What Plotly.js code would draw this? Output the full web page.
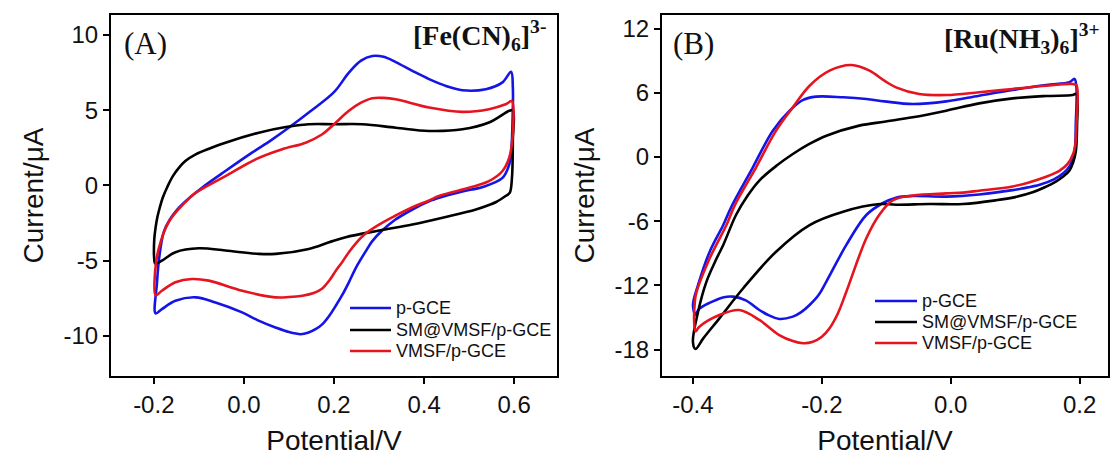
<!DOCTYPE html>
<html><head><meta charset="utf-8">
<script src="https://cdn.plot.ly/plotly-3.0.1.min.js"></script>
<style>html,body{margin:0;padding:0;background:#fff;} #chart{width:1110px;height:459px;}</style>
</head><body><div id="chart"></div><script>
const seriesNames = ['p-GCE', 'SM@VMSF/p-GCE', 'VMSF/p-GCE'];

// Panel A: [Fe(CN)6]3-
const vA_blue = [-0.196,-0.193,-0.188,-0.178,-0.165,-0.148,-0.12,-0.093,-0.041,0.018,0.06,0.1,0.144,0.2,0.233,0.26,0.285,0.31,0.337,0.375,0.411,0.45,0.485,0.537,0.574,0.593,0.597,0.596,0.594,0.589,0.574,0.53,0.485,0.441,0.411,0.374,0.335,0.307,0.285,0.27,0.25,0.233,0.218,0.204,0.19,0.175,0.159,0.142,0.126,0.1,0.07,0.03,-0.004,-0.063,-0.107,-0.152,-0.182,-0.196];
const iA_blue = [-8.5,-6.5,-4.8,-3.1,-2.3,-1.6,-0.8,-0.15,0.96,2.18,3.0,3.85,4.85,6.2,7.5,8.3,8.6,8.55,8.2,7.6,7.07,6.6,6.33,6.4,6.85,7.55,6.5,4.0,2.5,1.4,0.5,-0.1,-0.4,-0.75,-1.05,-1.6,-2.3,-3.0,-3.7,-4.4,-5.4,-6.44,-7.3,-8.0,-8.65,-9.2,-9.56,-9.8,-9.89,-9.75,-9.44,-8.95,-8.44,-7.78,-7.44,-7.67,-8.22,-8.5];

const vA_black = [-0.197,-0.199,-0.199,-0.196,-0.192,-0.187,-0.18,-0.17,-0.158,-0.144,-0.13,-0.107,-0.041,0.033,0.093,0.144,0.2,0.263,0.337,0.411,0.485,0.544,0.589,0.597,0.597,0.595,0.59,0.581,0.56,0.544,0.515,0.448,0.374,0.3,0.226,0.189,0.144,0.07,0.033,-0.041,-0.1,-0.152,-0.182,-0.197];
const iA_black = [-5.2,-4.9,-3.6,-2.8,-2.1,-1.5,-0.8,-0.1,0.6,1.18,1.62,2.07,2.84,3.51,3.89,4.07,4.07,4.07,3.84,3.62,3.73,4.18,4.96,5.0,3.0,0.5,-0.5,-0.7,-1.1,-1.3,-1.6,-2.1,-2.6,-3.0,-3.44,-3.78,-4.22,-4.55,-4.55,-4.33,-4.18,-4.44,-5.0,-5.2];

const vA_red = [-0.196,-0.197,-0.189,-0.167,-0.13,-0.107,-0.041,0.026,0.085,0.137,0.174,0.2,0.233,0.26,0.285,0.31,0.337,0.411,0.485,0.544,0.581,0.595,0.598,0.595,0.589,0.574,0.544,0.485,0.433,0.411,0.374,0.337,0.3,0.27,0.25,0.233,0.218,0.204,0.19,0.174,0.155,0.13,0.1,0.07,-0.004,-0.078,-0.115,-0.152,-0.182,-0.196];
const iA_red = [-7.3,-5.7,-4.2,-2.44,-1.11,-0.49,0.62,1.73,2.4,2.84,3.4,4.07,4.96,5.5,5.8,5.82,5.73,5.18,4.89,5.07,5.4,5.6,4.0,2.8,1.84,0.96,0.29,-0.27,-0.7,-1.0,-1.45,-2.0,-2.6,-3.2,-3.8,-4.44,-5.1,-5.67,-6.3,-6.85,-7.15,-7.33,-7.42,-7.44,-7.0,-6.33,-6.22,-6.44,-7.0,-7.3];

// Panel B: [Ru(NH3)6]3+
const vB_blue = [-0.396,-0.4,-0.392,-0.374,-0.353,-0.34,-0.307,-0.276,-0.25,-0.229,-0.209,-0.167,-0.131,-0.103,-0.059,-0.007,0.044,0.096,0.148,0.184,0.192,0.195,0.194,0.193,0.19,0.185,0.175,0.16,0.138,0.11,0.096,0.044,-0.007,-0.059,-0.085,-0.105,-0.131,-0.162,-0.193,-0.205,-0.219,-0.232,-0.245,-0.266,-0.282,-0.297,-0.318,-0.338,-0.352,-0.364,-0.38,-0.392,-0.396];
const iB_blue = [-14.77,-13.83,-11.96,-8.85,-6.36,-4.6,-0.96,2.46,4.33,5.33,5.64,5.58,5.42,5.2,4.95,5.2,5.73,6.26,6.73,6.98,7.3,6.5,3.0,1.0,0.0,-0.8,-1.5,-2.1,-2.6,-2.95,-3.1,-3.5,-3.7,-3.65,-3.8,-4.3,-5.42,-8.22,-11.65,-12.9,-13.83,-14.5,-14.92,-15.14,-14.8,-14.3,-13.4,-13.05,-13.1,-13.36,-13.8,-14.3,-14.77];

const vB_black = [-0.396,-0.4,-0.392,-0.379,-0.365,-0.353,-0.333,-0.315,-0.297,-0.27,-0.245,-0.22,-0.193,-0.142,-0.103,-0.059,-0.007,0.044,0.096,0.148,0.189,0.195,0.196,0.194,0.19,0.184,0.175,0.163,0.145,0.127,0.1,0.07,0.019,-0.033,-0.085,-0.11,-0.167,-0.219,-0.271,-0.322,-0.359,-0.384,-0.396];
const iB_black = [-17.94,-17.3,-14.46,-11.65,-9.7,-8.22,-5.4,-3.6,-2.2,-0.8,0.28,1.2,1.99,2.93,3.3,3.71,4.33,5.01,5.48,5.7,5.79,5.9,3.0,0.5,-0.5,-1.28,-1.8,-2.3,-2.85,-3.3,-3.75,-4.05,-4.39,-4.39,-4.46,-4.4,-5.11,-6.36,-8.85,-12.27,-15.08,-16.95,-17.94];

const vB_red = [-0.396,-0.398,-0.397,-0.395,-0.374,-0.348,-0.335,-0.302,-0.271,-0.245,-0.219,-0.188,-0.154,-0.126,-0.103,-0.085,-0.049,-0.007,0.044,0.096,0.148,0.189,0.195,0.195,0.193,0.19,0.182,0.169,0.148,0.12,0.096,0.044,0.019,-0.007,-0.059,-0.09,-0.11,-0.131,-0.162,-0.175,-0.188,-0.2,-0.215,-0.229,-0.245,-0.266,-0.297,-0.328,-0.359,-0.39,-0.396];
const iB_red = [-16.3,-15.5,-13.5,-12.74,-9.47,-6.36,-4.5,-0.96,2.46,4.64,6.66,8.07,8.6,8.07,7.13,6.51,5.89,5.79,6.05,6.36,6.66,6.82,6.7,3.0,1.0,0.3,-0.6,-1.28,-1.85,-2.4,-2.75,-3.15,-3.33,-3.4,-3.6,-4.05,-5.33,-7.6,-12.59,-14.6,-16.0,-16.8,-17.3,-17.41,-17.2,-16.64,-15.23,-14.3,-14.77,-15.86,-16.3];

const xTicksA = [-0.2, 0.0, 0.2, 0.4, 0.6];
const xTickTextA = ['-0.2', '0.0', '0.2', '0.4', '0.6'];
const yTicksA = [-10, -5, 0, 5, 10];
const yTickTextA = ['-10', '-5', '0', '5', '10'];
const xTicksB = [-0.4, -0.2, 0.0, 0.2];
const xTickTextB = ['-0.4', '-0.2', '0.0', '0.2'];
const yTicksB = [-18, -12, -6, 0, 6, 12];
const yTickTextB = ['-18', '-12', '-6', '0', '6', '12'];

const colors = ['#1414e6', '#000000', '#e6141e'];
const fontSans = 'Liberation Sans, Arial, sans-serif';
const fontSerif = 'Liberation Serif, Times New Roman, serif';

function tr(x, y, k, xa, ya) {
  return {x:x, y:y, name:seriesNames[k], type:'scatter', mode:'lines', xaxis:xa, yaxis:ya, showlegend:false,
    line:{color:colors[k], width:2.6, shape:'spline', smoothing:1}, hoverinfo:'skip'};
}

const data = [
  tr(vA_blue, iA_blue, 0, 'x', 'y'),
  tr(vA_black, iA_black, 1, 'x', 'y'),
  tr(vA_red, iA_red, 2, 'x', 'y'),
  tr(vB_blue, iB_blue, 0, 'x2', 'y2'),
  tr(vB_black, iB_black, 1, 'x2', 'y2'),
  tr(vB_red, iB_red, 2, 'x2', 'y2')
];

function axis(extra) {
  return Object.assign({
    showline:true, mirror:true, linecolor:'#000', linewidth:2,
    ticks:'outside', ticklen:6, tickwidth:2, tickcolor:'#000',
    showgrid:false, zeroline:false,
    tickfont:{family:fontSans, size:24, color:'#111'},
    fixedrange:true
  }, extra);
}
const titleFont = {family:fontSans, size:28, color:'#111'};
const ydom = [0.1808, 0.9673];

// Legend keys (paper-positioned shapes + text, one block per panel)
const legendBlocks = [
  {x0:350, x1:391, tx:394, rows:[308, 330, 351]},
  {x0:875, x1:917, tx:920, rows:[301, 322, 343]}
];
const shapes = [];
const annotations = [];
legendBlocks.forEach(b => {
  seriesNames.forEach((nm, k) => {
    shapes.push({type:'line', xref:'paper', yref:'paper', x0:b.x0/1110, x1:b.x1/1110,
      y0:1-b.rows[k]/459, y1:1-b.rows[k]/459, line:{color:colors[k], width:2.6}});
    annotations.push({text:nm, xref:'paper', yref:'paper', x:b.tx/1110, y:1-b.rows[k]/459,
      xanchor:'left', yanchor:'middle', showarrow:false, font:{family:fontSans, size:18, color:'#111'}});
  });
});

annotations.push(
  {text:'(A)', xref:'paper', yref:'paper', x:145/1110, y:1-43/459, xanchor:'center', yanchor:'middle', showarrow:false,
    font:{family:fontSerif, size:31, color:'#111'}},
  {text:'<b>[Fe(CN)<sub>6</sub>]<sup>3-</sup></b>', xref:'paper', yref:'paper', x:548/1110, y:1-36/459, xanchor:'right', yanchor:'middle', showarrow:false,
    font:{family:fontSerif, size:28, color:'#111'}},
  {text:'(B)', xref:'paper', yref:'paper', x:693/1110, y:1-44/459, xanchor:'center', yanchor:'middle', showarrow:false,
    font:{family:fontSerif, size:31, color:'#111'}},
  {text:'<b>[Ru(NH<sub>3</sub>)<sub>6</sub>]<sup>3+</sup></b>', xref:'paper', yref:'paper', x:1102/1110, y:1-38/459, xanchor:'right', yanchor:'middle', showarrow:false,
    font:{family:fontSerif, size:28, color:'#111'}}
);

const layout = {
  width:1110, height:459,
  margin:{l:0, r:0, t:0, b:0},
  paper_bgcolor:'#fff', plot_bgcolor:'#fff',
  showlegend:false,
  xaxis: axis({domain:[0.1, 0.5018], range:[-0.295, 0.695], anchor:'y', tickvals:xTicksA, ticktext:xTickTextA,
    title:{text:'Potential/V', font:titleFont, standoff:14}}),
  yaxis: axis({domain:ydom, range:[-12.67, 11.33], anchor:'x', tickvals:yTicksA, ticktext:yTickTextA,
    title:{text:'Current/μA', font:titleFont, standoff:12}}),
  xaxis2: axis({domain:[0.5964, 0.9982], range:[-0.448, 0.244], anchor:'y2', tickvals:xTicksB, ticktext:xTickTextB,
    title:{text:'Potential/V', font:titleFont, standoff:14}}),
  yaxis2: axis({domain:ydom, range:[-20.47, 13.27], anchor:'x2', tickvals:yTicksB, ticktext:yTickTextB,
    title:{text:'Current/μA', font:titleFont, standoff:12}}),
  shapes: shapes,
  annotations: annotations
};

Plotly.newPlot('chart', data, layout, {staticPlot:true, displayModeBar:false});
</script></body></html>
